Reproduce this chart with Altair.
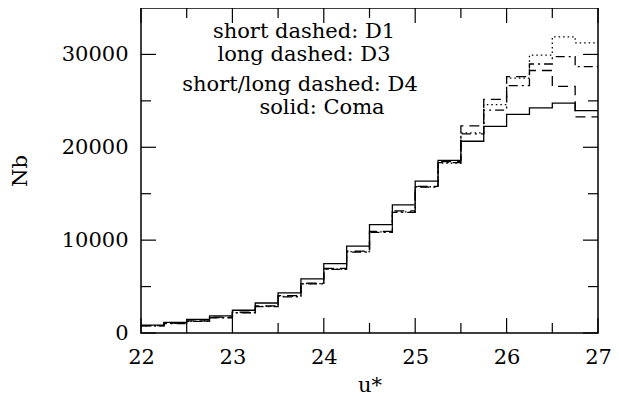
import altair as alt
import pandas as pd

# bin left edges (width 0.25) from 22 to 26.75
bin_edges = [22.0, 22.25, 22.5, 22.75, 23.0, 23.25, 23.5, 23.75, 24.0, 24.25,
             24.5, 24.75, 25.0, 25.25, 25.5, 25.75, 26.0, 26.25, 26.5, 26.75]
bin_end = 27.0

series_names = ["D1", "D3", "D4", "Coma"]
d1 = [780, 1040, 1280, 1660, 2200, 2870, 3940, 5320, 6880, 8760,
      10880, 13050, 15750, 18300, 21550, 24600, 27450, 29930, 31890, 31250]
d3 = [800, 1060, 1300, 1700, 2250, 2920, 4020, 5380, 6950, 8820,
      10950, 13150, 15800, 18450, 22300, 25150, 27600, 28270, 26560, 23270]
d4 = [760, 1020, 1260, 1640, 2180, 2850, 3900, 5280, 6850, 8720,
      10830, 13000, 15700, 18350, 21450, 24010, 26630, 28970, 29760, 28690]
coma = [850, 1140, 1460, 1840, 2450, 3230, 4330, 5820, 7480, 9360,
        11670, 13800, 16350, 18580, 20650, 22250, 23550, 24250, 24750, 23950]

x_major = [22, 23, 24, 25, 26, 27]
x_minor = [22.5, 23.5, 24.5, 25.5, 26.5]
y_major = [0, 10000, 20000, 30000]
y_minor = [5000, 15000, 25000]

notes = ["short dashed: D1", "long dashed: D3", "short/long dashed: D4", "solid: Coma"]

rows = []
for name, vals in zip(series_names, [d1, d3, d4, coma]):
    for e, v in zip(bin_edges, vals):
        rows.append({"u": e, "Nb": v, "series": name})
    rows.append({"u": bin_end, "Nb": vals[-1], "series": name})
df = pd.DataFrame(rows)

W, H = 457, 325
FONT = "DejaVu Serif"
xscale = alt.Scale(domain=[22, 27], nice=False, zero=False)
yscale = alt.Scale(domain=[0, 35000], nice=False)

x_axis = alt.Axis(values=x_major, title="u*", tickSize=0, domain=False,
                  grid=False, labelPadding=13, titlePadding=7,
                  labelFontSize=21, titleFontSize=21,
                  titleFontWeight="normal", labelColor="black",
                  titleColor="black", labelFlush=False)
y_axis = alt.Axis(values=y_major, title="Nb", tickSize=0, domain=False,
                  grid=False, labelPadding=13, titlePadding=31,
                  labelFontSize=21, titleFontSize=21, format="d",
                  titleFontWeight="normal", labelColor="black",
                  titleColor="black", labelFlush=False)

lines = alt.Chart(df).mark_line(interpolate="step-after", color="black").encode(
    x=alt.X("u:Q", scale=xscale, axis=x_axis),
    y=alt.Y("Nb:Q", scale=yscale, axis=y_axis),
    detail="series:N",
    strokeDash=alt.StrokeDash("series:N", legend=None,
                              scale=alt.Scale(domain=series_names,
                                              range=[[1.5, 3], [10, 6], [9, 4, 2, 4], [1, 0]])),
    strokeWidth=alt.StrokeWidth("series:N", legend=None,
                                scale=alt.Scale(domain=series_names,
                                                range=[1.3, 1.3, 1.3, 2.0])),
)


def xticks(vals, y0, y1):
    return alt.Chart(pd.DataFrame({"u": vals})).mark_rule(color="black", strokeWidth=1.2).encode(
        x=alt.X("u:Q", scale=xscale, axis=x_axis),
        y=alt.value(y0), y2=alt.value(y1))


def yticks(vals, x0, x1):
    return alt.Chart(pd.DataFrame({"Nb": vals})).mark_rule(color="black", strokeWidth=1.2).encode(
        y=alt.Y("Nb:Q", scale=yscale, axis=y_axis),
        x=alt.value(x0), x2=alt.value(x1))


ticks = [
    xticks(x_major, H, H - 15), xticks(x_major, 0, 15),
    xticks(x_minor, H, H - 10), xticks(x_minor, 0, 10),
    yticks(y_major, 0, 15), yticks(y_major, W, W - 15),
    yticks(y_minor, 0, 10), yticks(y_minor, W, W - 10),
]

note_pos = [(163, 30), (163, 53), (159, 83), (181, 106)]
texts = [
    alt.Chart(pd.DataFrame({"label": [t]})).mark_text(
        align="center", baseline="alphabetic", fontSize=21, font=FONT, color="black"
    ).encode(text="label:N", x=alt.value(px), y=alt.value(py))
    for t, (px, py) in zip(notes, note_pos)
]

chart = alt.layer(lines, *ticks, *texts).properties(
    width=W, height=H,
    autosize=alt.AutoSizeParams(type="none"),
    padding={"left": 133, "top": 0, "right": 13, "bottom": 64},
).configure(font=FONT).configure_view(stroke="black", strokeWidth=1.5)

chart.save("out.html", embed_options={"renderer": "svg", "actions": False})
